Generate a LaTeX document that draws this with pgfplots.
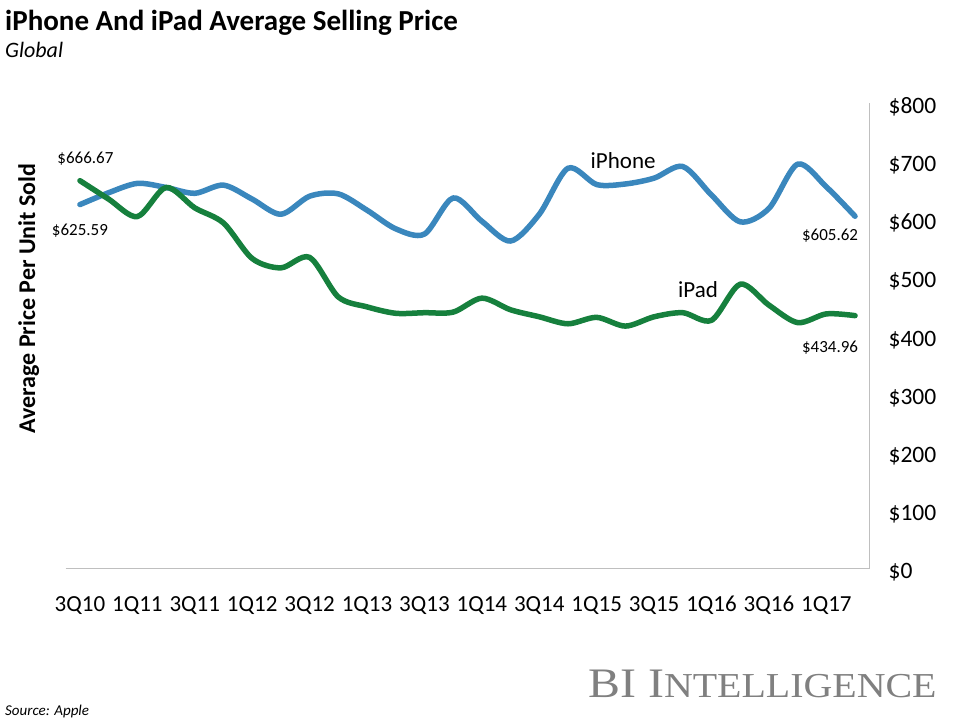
\documentclass[border=0pt]{standalone}
\usepackage{pgfplots}
\pgfplotsset{compat=1.18}
\usepackage{fontspec}
\setmainfont{Carlito}
\newfontfamily\bifont{Liberation Serif}
\definecolor{iphoneblue}{RGB}{58,135,189}
\definecolor{ipadgreen}{RGB}{22,128,61}
\definecolor{axisgray}{RGB}{191,191,191}
\definecolor{logogray}{RGB}{128,128,128}
\newcommand\fs[1]{\fontsize{#1bp}{#1bp}\selectfont}

\begin{document}
\begin{tikzpicture}
\useasboundingbox (0,0) rectangle (960bp,720bp);
% titles
\node[anchor=base west,inner sep=0pt,font=\bfseries\fs{29}] at (5bp,689bp) {iPhone And iPad Average Selling Price};
\node[anchor=base west,inner sep=0pt,font=\itshape\fs{22}] at (5bp,662bp) {Global};
\node[anchor=base,inner sep=0pt,rotate=90,font=\bfseries\fs{24}] at (35bp,421.5bp) {Average Price Per Unit Sold};

\begin{axis}[
 at={(65.6bp,151bp)},anchor=south west,
 scale only axis,width=803.8bp,height=466bp,
 xmin=-0.5,xmax=27.5,ymin=0,ymax=800,
 axis x line=bottom,axis y line=right,
 axis line style={-,draw=axisgray,line width=1bp},
 major tick length=0pt,tick style={draw=none},
 xtick={0,2,...,26},
 xticklabels={3Q10,1Q11,3Q11,1Q12,3Q12,1Q13,3Q13,1Q14,3Q14,1Q15,3Q15,1Q16,3Q16,1Q17},
 ytick={0,100,...,800},
 yticklabels={\$0,\$100,\$200,\$300,\$400,\$500,\$600,\$700,\$800},
 xticklabel style={anchor=base,yshift=-43bp,inner sep=0pt,font=\fs{23}},
 yticklabel style={anchor=base west,xshift=19bp,yshift=-10bp,inner sep=0pt,font=\fs{23.5}},
 clip=false,
]
% iPhone
\addplot[iphoneblue,line width=5.5bp,smooth,line cap=round,line join=round] coordinates {
 (0,625.59) (1,646) (2,662) (3,655) (4,645) (5,659) (6,635) (7,609)
 (8,640) (9,644) (10,616) (11,584) (12,575) (13,637) (14,597) (15,563)
 (16,609) (17,688) (18,660) (19,661) (20,671) (21,691) (22,642) (23,596)
 (24,619) (25,695) (26,656) (27,605.62)
};
% iPad
\addplot[ipadgreen,line width=5.5bp,smooth,line cap=round,line join=round] coordinates {
 (0,666.67) (1,635) (2,605) (3,655) (4,620) (5,594) (6,533) (7,517)
 (8,535) (9,467) (10,450) (11,439) (12,440) (13,441) (14,465) (15,445)
 (16,433) (17,421) (18,432) (19,417) (20,433) (21,440) (22,427) (23,489)
 (24,453) (25,423) (26,438) (27,434.96)
};
\node[font=\fs{17}] at (axis cs:0.19,704) {\$666.67};
\node[font=\fs{17}] at (axis cs:0,580) {\$625.59};
\node[font=\fs{17}] at (axis cs:26.13,571.7) {\$605.62};
\node[font=\fs{17}] at (axis cs:26.13,379.4) {\$434.96};
\node[font=\fs{23}] at (axis cs:18.92,700.4) {iPhone};
\node[font=\fs{23}] at (axis cs:21.53,479) {iPad};
\end{axis}

\node[anchor=base west,inner sep=0pt,text=logogray] at (588bp,23bp)
 {\scalebox{1.14}[1]{\bifont\fs{42}BI I\fs{35}NTELLIGENCE}};
\node[anchor=base west,inner sep=0pt,font=\itshape\fs{15}] at (5bp,5bp) {Source: Apple};
\end{tikzpicture}
\end{document}
